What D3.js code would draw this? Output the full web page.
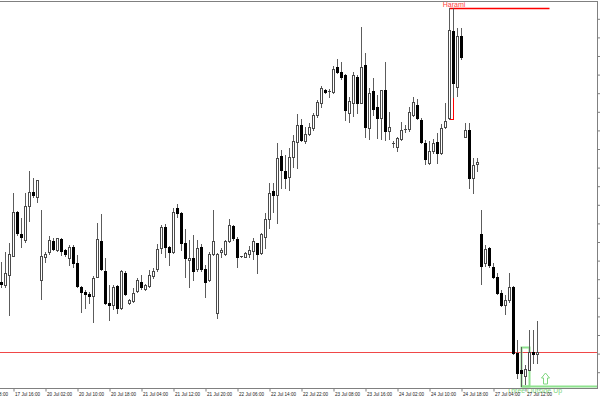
<!DOCTYPE html>
<html><head><meta charset="utf-8">
<script src="https://cdn.jsdelivr.net/npm/d3@7/dist/d3.min.js"></script>
<style>html,body{margin:0;padding:0;background:#fff;overflow:hidden}</style>
</head><body><svg id="c" width="600" height="400"></svg>
<script>
// ---- data (H1 bars, arbitrary price units) ----
const openP = [1118,1115,1125,1144,1188,1166,1160,1194,1208,1203,
1120,1143,1148,1159,1150,1161,1150,1142,1153,1137,
1113,1108,1106,1104,1123,1159,1129,1097,1095,1114,
1092,1127,1097,1099,1109,1118,1111,1114,1124,1131,
1152,1173,1153,1148,1192,1187,1157,1140,1142,1131,
1153,1131,1120,1146,1087,1148,1146,1159,1174,1161,
1144,1143,1146,1149,1157,1147,1163,1181,1209,1205,
1244,1229,1223,1243,1258,1275,1259,1266,1272,1285,
1297,1310,1309,1308,1333,1328,1325,1287,1297,1323,
1297,1335,1272,1309,1293,1282,1310,1269,1257,1253,
1261,1271,1271,1285,1295,1280,1257,1237,1249,1258,
1247,1273,1282,1369,1313,1364,1263,1270,1222,1236,
1166,1137,1152,1133,1123,1107,1095,1100,1113,1047,
1030,1024,1030,1048,1046];
const highP = [1138,1148,1157,1207,1189,1182,1207,1229,1222,1220,
1190,1148,1164,1162,1162,1162,1151,1155,1155,1145,
1114,1110,1108,1124,1177,1186,1142,1115,1115,1115,
1130,1129,1101,1112,1122,1125,1116,1130,1132,1156,
1175,1176,1154,1192,1196,1188,1171,1160,1165,1160,
1156,1135,1148,1190,1147,1152,1160,1181,1175,1163,
1144,1148,1154,1162,1157,1167,1187,1217,1217,1257,
1250,1245,1252,1265,1286,1281,1273,1277,1287,1300,
1314,1311,1311,1334,1341,1338,1326,1303,1328,1325,
1373,1347,1312,1322,1305,1310,1338,1288,1259,1263,
1278,1275,1293,1303,1301,1282,1260,1259,1261,1267,
1276,1297,1392,1392,1372,1372,1277,1277,1242,1242,
1190,1155,1153,1137,1127,1110,1105,1127,1114,1060,
1053,1035,1070,1070,1079];
const lowP = [1113,1113,1085,1144,1165,1153,1158,1179,1203,1198,
1101,1138,1146,1150,1149,1145,1144,1135,1133,1113,
1088,1092,1097,1078,1123,1130,1096,1080,1091,1087,
1091,1105,1096,1098,1108,1111,1110,1113,1122,1129,
1147,1143,1135,1147,1183,1150,1123,1113,1120,1129,
1129,1103,1119,1145,1082,1143,1145,1158,1160,1133,
1143,1143,1143,1141,1127,1146,1152,1172,1188,1177,
1212,1212,1210,1233,1232,1259,1257,1265,1270,1283,
1293,1307,1303,1307,1327,1321,1280,1278,1284,1287,
1297,1263,1261,1285,1262,1261,1260,1261,1253,1249,
1260,1268,1269,1284,1281,1257,1236,1236,1247,1237,
1246,1272,1281,1303,1304,1341,1263,1212,1207,1229,
1116,1134,1133,1122,1106,1094,1086,1098,1046,1022,
1014,1016,1030,1037,1037];
const closeP = [1116,1127,1146,1188,1167,1163,1194,1208,1205,1220,
1144,1146,1160,1151,1162,1149,1146,1153,1137,1114,
1108,1106,1104,1122,1161,1131,1097,1095,1113,1092,
1129,1106,1100,1107,1120,1113,1115,1125,1129,1151,
1173,1153,1148,1188,1187,1157,1142,1142,1129,1152,
1131,1118,1146,1159,1146,1150,1159,1175,1162,1143,
1144,1147,1150,1159,1146,1166,1181,1207,1205,1242,
1230,1222,1243,1259,1275,1260,1266,1273,1285,1298,
1312,1308,1309,1331,1328,1323,1290,1299,1325,1297,
1333,1273,1307,1291,1282,1310,1269,1273,1257,1262,
1270,1271,1288,1298,1282,1258,1241,1249,1257,1247,
1272,1279,1370,1317,1364,1343,1270,1222,1235,1238,
1134,1151,1135,1123,1107,1095,1100,1113,1047,1027,
1027,1031,1048,1046,1048];

const timeLabels = ["17 Jul 08:00","17 Jul 16:00","20 Jul 02:00","20 Jul 10:00","20 Jul 18:00","21 Jul 04:00",
"21 Jul 12:00","21 Jul 20:00","22 Jul 06:00","22 Jul 14:00","22 Jul 22:00","23 Jul 08:00",
"23 Jul 16:00","24 Jul 02:00","24 Jul 10:00","24 Jul 18:00","27 Jul 04:00","27 Jul 12:00"];
const labelBars = [-5,3,11,19,27,35,43,51,59,67,75,83,91,99,107,115,123,131];
const priceTicks = [1381.7,1363.1,1344.5,1325.9,1307.3,1288.7,1270.1,1251.5,1232.9,1214.3,
1195.7,1177.1,1158.5,1139.9,1121.3,1102.7,1084.1,1065.5,1046.9,1028.3];
const bidPrice = 1048;

const patternNames = ["Harami","Three Outside Up"];
const patternStart = [112,130];
const patternEnd = [113,132];
const patternTop = [1392,1053];
const patternBottom = [1281,1014];
const patternBullish = [false,true];

// ---- chart ----
const W = 600, H = 400, plotR = 597, plotB = 388, plotT = 1;
const svg = d3.select("#c");
const x = d3.scaleLinear().domain([0, 134]).range([1.5, 537.5]);
const y = d3.scaleLinear().domain([1012, 1398]).range([388, 2]);
const bars = d3.range(openP.length).map(i => ({i, o:openP[i], h:highP[i], l:lowP[i], c:closeP[i]}));

svg.append("rect").attr("width",W).attr("height",H).attr("fill","#fff");
svg.append("defs").append("clipPath").attr("id","plot")
  .append("rect").attr("x",0).attr("y",plotT).attr("width",plotR).attr("height",plotB-plotT);
const g = svg.append("g").attr("clip-path","url(#plot)");

// bid line
g.append("line").attr("x1",0).attr("x2",plotR)
  .attr("y1",y(bidPrice)+0.5).attr("y2",y(bidPrice)+0.5)
  .attr("stroke","#f04848").attr("stroke-width",1);

// patterns (behind candles)
const pats = patternNames.map((n,k)=>({n, s:patternStart[k], e:patternEnd[k], t:patternTop[k], b:patternBottom[k], bull:patternBullish[k]}));
pats.forEach(p => {
  const col = p.bull ? "#8ee28e" : "#ff0000";
  const sw = p.bull ? 2 : 1;
  g.append("rect").attr("x",x(p.s)).attr("y",y(p.t)+0.5)
    .attr("width",x(p.e)-x(p.s)).attr("height",y(p.b)-y(p.t))
    .attr("fill","none").attr("stroke",col).attr("stroke-width",sw);
  const ly = p.bull ? y(p.b)+0.5 : y(p.t)+0.5;
  g.append("line").attr("x1",x(p.s)).attr("x2",x(p.s+25)).attr("y1",ly).attr("y2",ly)
    .attr("stroke",col).attr("stroke-width",p.bull ? 2 : 1.3);
});

// wicks
g.selectAll("line.wick").data(bars).join("line").attr("class","wick")
  .attr("x1",d=>x(d.i)).attr("x2",d=>x(d.i))
  .attr("y1",d=>y(d.h)).attr("y2",d=>y(d.l)+1)
  .attr("stroke","#5c5c5c").attr("stroke-width",1);

// bodies
bars.forEach(d => {
  const top = y(Math.max(d.o,d.c)), bot = y(Math.min(d.o,d.c));
  if (bot - top < 1) {
    g.append("line").attr("x1",x(d.i)-1.5).attr("x2",x(d.i)+1.5)
      .attr("y1",top+0.5).attr("y2",top+0.5).attr("stroke","#444").attr("stroke-width",1);
  } else if (d.c < d.o) {
    g.append("rect").attr("x",x(d.i)-1.5).attr("y",top).attr("width",3).attr("height",bot-top+1)
      .attr("fill","#000");
  } else {
    g.append("rect").attr("x",x(d.i)-1).attr("y",top+0.5).attr("width",2).attr("height",Math.max(bot-top,0.5))
      .attr("fill","#fff").attr("stroke","#4a4a4a").attr("stroke-width",1);
  }
});

// pattern labels
pats.forEach(p => {
  const cx = (x(p.s)+x(p.e))/2;
  const t = svg.append("text").text(p.n)
    .attr("font-family","Liberation Sans, Arial, sans-serif").attr("font-size",7)
    .attr("fill", p.bull ? "#7fd67f" : "#ff4040").attr("text-anchor","middle");
  if (p.bull) t.attr("x", cx+9).attr("y", y(p.b)+6.6);
  else t.attr("x", cx+2.5).attr("y", y(p.t)-1.2);
});

// signal arrow for last (bullish) pattern
const lp = pats[pats.length-1];
const ax = x(lp.e+4), ab = y(lp.b)-2;
svg.append("path")
  .attr("d", `M${ax},${ab-11} L${ax+4},${ab-6} L${ax+2},${ab-6} L${ax+2},${ab} L${ax-2},${ab} L${ax-2},${ab-6} L${ax-4},${ab-6} Z`)
  .attr("fill","#fff").attr("stroke","#7fd67f").attr("stroke-width",1);

// frame
svg.append("line").attr("x1",0).attr("x2",plotR+0.5).attr("y1",plotT+0.5).attr("y2",plotT+0.5).attr("stroke","#808080");
svg.append("line").attr("x1",plotR+0.5).attr("x2",plotR+0.5).attr("y1",plotT).attr("y2",plotB+1).attr("stroke","#808080");
svg.append("line").attr("x1",0).attr("x2",plotR+0.5).attr("y1",plotB+0.5).attr("y2",plotB+0.5).attr("stroke","#808080");

// right price axis (labels fall outside the window)
const ra = svg.append("g").attr("transform",`translate(${plotR+0.5},0.5)`)
  .call(d3.axisRight(y).tickValues(priceTicks).tickSize(3).tickSizeOuter(0).tickFormat(""));
ra.select(".domain").remove();
ra.selectAll("line").attr("stroke","#808080");

// bottom time axis
const ba = svg.append("g").attr("transform",`translate(0,${plotB+0.5})`)
  .call(d3.axisBottom(x).tickValues(labelBars).tickSize(3).tickSizeOuter(0)
    .tickFormat((d,k)=>timeLabels[k]));
ba.select(".domain").remove();
ba.selectAll("line").attr("stroke","#808080");
ba.selectAll("text").attr("text-anchor","start").attr("x",1).attr("y",7.3).attr("dy",0)
  .attr("font-family","Liberation Sans, Arial, sans-serif").attr("font-size",4.6).attr("fill","#222");
</script></body></html>
